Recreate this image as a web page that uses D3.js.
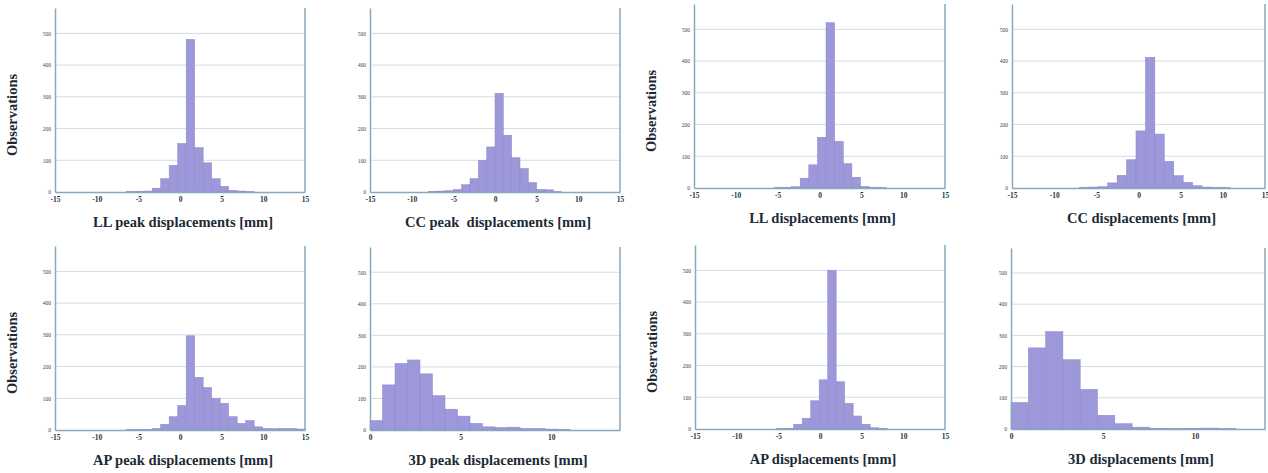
<!DOCTYPE html>
<html>
<head>
<meta charset="utf-8">
<script src="https://cdn.jsdelivr.net/npm/d3@7"></script>
<style>
  body { margin: 0; background: #fff; }
  svg { display: block; }
  .tick-y { font-family: "Liberation Serif", serif; font-size: 5.5px; fill: #3a3f48; }
  .tick-x { font-family: "Liberation Serif", serif; font-size: 7.5px; font-weight: bold; fill: #2c3440; }
  .title { font-family: "Liberation Serif", serif; font-size: 14.5px; font-weight: bold; fill: #1c2a36; }
</style>
</head>
<body>
<script>
// histogram data (counts per bin)
const titles = [
  "LL peak displacements [mm]", "CC peak\u00a0 displacements [mm]",
  "LL displacements [mm]", "CC displacements [mm]",
  "AP peak displacements [mm]", "3D peak displacements [mm]",
  "AP displacements [mm]", "3D displacements [mm]"
];
const xDomains = [[-15, 15], [-15, 15], [-15, 15], [-15, 15], [-15, 15], [0, 13.8], [-15, 15], [0, 13.8]];
const xTicks = [-15, -10, -5, 0, 5, 10, 15];
const xTicks3d = [0, 5, 10];
const yTicks = [0, 100, 200, 300, 400, 500];
const binStarts = [-6.4, -8, -5.4, -7.02, -6.4, 0, -5.2, 0];
const binWidths = [1.02, 1.0, 1.03, 1.12, 1.02, 0.69, 1.02, 0.94];

const llPeak = [1, 2, 3, 12, 42, 84, 153, 481, 140, 92, 42, 18, 5, 3, 1];
const ccPeak = [2, 3, 4, 8, 23, 42, 100, 142, 311, 179, 108, 74, 30, 8, 7, 1];
const llDisp = [1, 2, 4, 31, 73, 160, 521, 147, 77, 34, 5, 2, 1];
const ccDisp = [2, 3, 4, 16, 40, 89, 180, 412, 170, 84, 39, 18, 7, 3, 2, 1];
const apPeak = [1, 2, 2, 5, 18, 42, 77, 297, 166, 134, 100, 84, 42, 21, 30, 10, 5, 4, 5, 5, 3];
const d3Peak = [30, 143, 211, 222, 178, 109, 66, 44, 21, 10, 8, 9, 5, 5, 3, 2];
const apDisp = [1, 2, 15, 34, 89, 155, 500, 149, 81, 41, 15, 4, 2];
const d3Disp = [85, 260, 312, 222, 127, 44, 17, 6, 2, 1, 2, 3, 1];

const allCounts = [llPeak, ccPeak, llDisp, ccDisp, apPeak, d3Peak, apDisp, d3Disp];

let w = 1268, h = 473, svg;

const barFill = "#9d98d9";
const barStroke = "#8c87c9";
const axisColor = "#86a9bd";
const gridColor = "#cfdee6";

// plot boxes [left, right, top, bottom]
const boxes = [
  [55, 305, 8, 192], [370, 620, 8, 192], [694, 945, 4, 188], [1012, 1265, 4, 188],
  [55, 305, 246, 430], [370, 620, 247, 430], [695, 945, 245, 429], [1011, 1265, 248, 429]
];
const hasYTitle = [true, false, true, false, true, false, true, false];

const init = () => {
  svg = d3.select("body")
    .append("svg")
    .attr("width", w)
    .attr("height", h);

  allCounts.forEach((counts, i) => createPanel(i, counts));
}

const createPanel = (i, counts) => {
  const [x0, x1, top, bottom] = boxes[i];
  const g = svg.append("g");

  const x = d3.scaleLinear().domain(xDomains[i]).range([x0, x1]);
  const y = d3.scaleLinear().domain([0, 580]).range([bottom, top]);

  // grid lines
  g.selectAll(".grid")
    .data(yTicks.slice(1))
    .join("line")
    .attr("x1", x0)
    .attr("x2", x1)
    .attr("y1", d => y(d))
    .attr("y2", d => y(d))
    .attr("stroke", gridColor)
    .attr("stroke-width", 1);

  const bins = counts.map((c, k) => ({
    a: binStarts[i] + k * binWidths[i],
    b: binStarts[i] + (k + 1) * binWidths[i],
    c: c
  }));

  g.selectAll(".bar")
    .data(bins)
    .join("rect")
    .attr("x", d => x(d.a))
    .attr("width", d => x(d.b) - x(d.a))
    .attr("y", d => y(d.c))
    .attr("height", d => y(0) - y(d.c))
    .attr("fill", barFill)
    .attr("stroke", barStroke)
    .attr("stroke-width", 0.5);

  // axes frame: left, right, bottom
  const xAxis = d3.axisBottom(x)
    .tickValues(xDomains[i][0] === 0 ? xTicks3d : xTicks)
    .tickSize(0)
    .tickPadding(5)
    .tickFormat(d => String(d));

  const ax = g.append("g")
    .attr("transform", `translate(0, ${bottom})`)
    .call(xAxis);
  ax.select(".domain").attr("stroke", axisColor).attr("stroke-width", 1.5);
  ax.selectAll("text").attr("class", "tick-x").attr("fill", null).attr("font-size", null).attr("font-family", null);

  const yAxis = d3.axisLeft(y)
    .tickValues(yTicks)
    .tickSize(0)
    .tickPadding(4);

  const ay = g.append("g")
    .attr("transform", `translate(${x0}, 0)`)
    .call(yAxis);
  ay.select(".domain").attr("stroke", axisColor).attr("stroke-width", 1.5);
  ay.selectAll("text").attr("class", "tick-y").attr("fill", null).attr("font-size", null).attr("font-family", null);

  g.append("line")
    .attr("x1", x1)
    .attr("x2", x1)
    .attr("y1", top)
    .attr("y2", bottom)
    .attr("stroke", axisColor)
    .attr("stroke-width", 1.5);

  g.append("text")
    .attr("class", "title")
    .attr("x", (x0 + x1) / 2 + 3)
    .attr("y", bottom + 35)
    .attr("text-anchor", "middle")
    .text(titles[i]);

  if (hasYTitle[i]) {
    g.append("text")
      .attr("class", "title")
      .attr("text-anchor", "middle")
      .attr("transform", `translate(${x0 - 38}, ${(top + bottom) / 2 + 15}) rotate(-90)`)
      .text("Observations");
  }
}

init();
</script>
</body>
</html>
